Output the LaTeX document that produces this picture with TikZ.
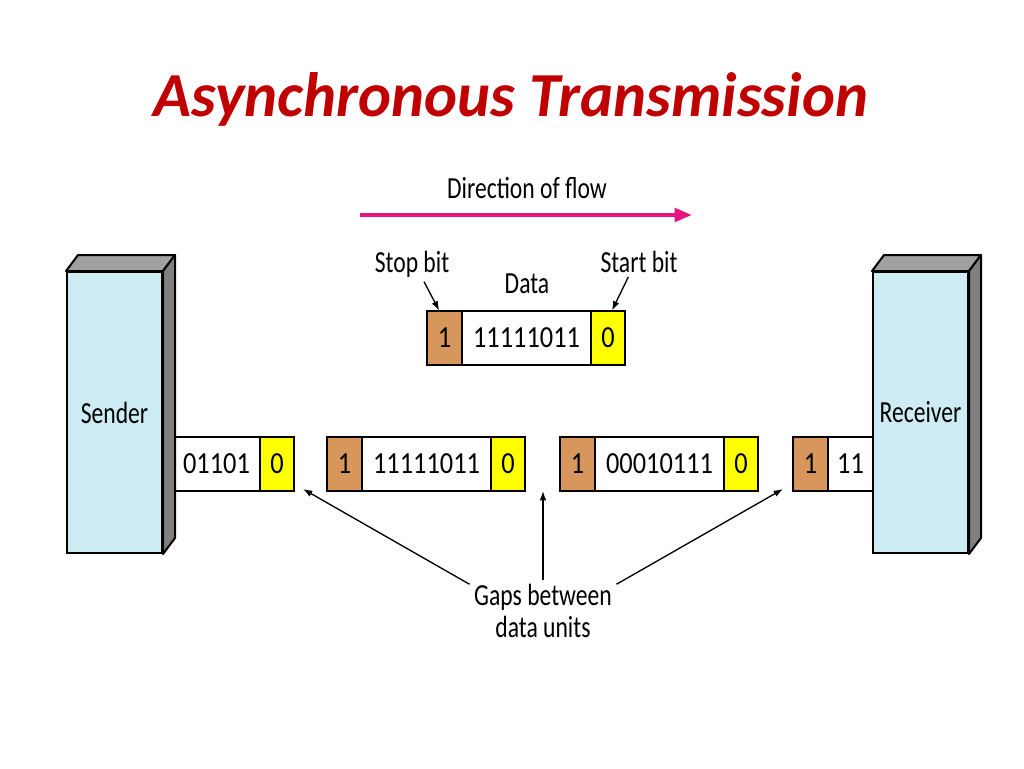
\documentclass[tikz,border=0pt]{standalone}
\usepackage{fontspec}
\setmainfont{Carlito}
\newfontfamily\labelfont{Carlito}[FakeStretch=0.77]
\newfontfamily\digitfont{Carlito}[FakeStretch=0.86]
\usetikzlibrary{positioning,arrows.meta}

\definecolor{titlered}{RGB}{192,0,0}
\definecolor{flowpink}{RGB}{231,19,127}
\definecolor{stopbrown}{RGB}{214,150,92}
\definecolor{startyellow}{RGB}{255,255,0}
\definecolor{hostblue}{RGB}{204,235,242}
\definecolor{hosttop}{RGB}{160,160,160}
\definecolor{hostside}{RGB}{128,128,128}

\tikzset{
  txt/.style={font=\labelfont\fontsize{23}{24}\selectfont},
  bitcell/.style={draw, line width=1.5pt, minimum height=40.5pt, inner sep=0pt, outer sep=0pt,
    font=\digitfont\fontsize{23}{24}\selectfont},
  stopcell/.style={bitcell, fill=stopbrown, minimum width=26.25pt},
  datacell/.style={bitcell, fill=white, minimum width=96.75pt},
  startcell/.style={bitcell, fill=startyellow, minimum width=25.5pt},
  host/.style={draw, line width=1.5pt, fill=hostblue, minimum width=71.25pt, minimum height=210.75pt, txt},
  face/.style={draw, line width=1.5pt, line join=round},
  ptr/.style={-{Latex[length=7pt,width=5pt]}, line width=1pt},
}

\begin{document}
\begin{tikzpicture}[x=0.75pt,y=-0.75pt]
\useasboundingbox (0,0) rectangle (1024,768);

\node[anchor=base, font=\fontsize{47}{50}\selectfont\bfseries\itshape, text=titlered] (title) at (511,116) {Asynchronous Transmission};

% direction of flow
\node[txt, anchor=base] (flowlbl) at (527,198) {Direction of flow};
\coordinate (flowa) at (360,215);
\coordinate (flowb) at (692,215);
\draw[flowpink, line width=3pt, -{Triangle[length=13pt,width=10pt]}] (flowa) -- (flowb);

% one data unit
\node[stopcell, anchor=west] (stop1) at (427,337.5) {1};
\node[datacell, right=0pt of stop1] (data1) {11111011};
\node[startcell, right=0pt of data1] (start1) {0};
\node[txt, anchor=base] (stoplbl) at (412,272) {Stop bit};
\node[txt, anchor=base] (datalbl) at (527,293) {Data};
\node[txt, anchor=base] (startlbl) at (639,272) {Start bit};
\draw[ptr] ([xshift=9pt]stoplbl.south) -- ([xshift=-4pt]stop1.north);
\draw[ptr] ([xshift=-8pt]startlbl.south) -- ([xshift=3pt]start1.north);

% units on the line
\node[bitcell, fill=white, minimum width=65.25pt, anchor=west] (data0) at (173,464) {01101};
\node[startcell, right=0pt of data0] (start0) {0};

\node[stopcell, anchor=west] (stop2) at (327,464) {1};
\node[datacell, right=0pt of stop2] (data2) {11111011};
\node[startcell, right=0pt of data2] (start2) {0};

\node[stopcell, anchor=west] (stop3) at (560,464) {1};
\node[datacell, right=0pt of stop3] (data3) {00010111};
\node[startcell, right=0pt of data3] (start3) {0};

\node[stopcell, anchor=west] (stop4) at (793,464) {1};
\node[bitcell, fill=white, minimum width=33.75pt, right=0pt of stop4] (data4) {11};

% sender and receiver
\node[host] (sender) at (114.5,412.5) {Sender};
\node[host] (receiver) at (920.5,412.5) {Receiver};
\foreach \h in {sender,receiver} {
  \draw[face, fill=hosttop] (\h.north west) -- ([shift={(12,-16)}]\h.north west)
    -- ([shift={(12,-16)}]\h.north east) -- (\h.north east) -- cycle;
  \draw[face, fill=hostside] (\h.north east) -- ([shift={(12,-16)}]\h.north east)
    -- ([shift={(12,-16)}]\h.south east) -- (\h.south east) -- cycle;
}

% gaps
\node[txt, align=center] (gaps) at (543,611) {Gaps between\\data units};
\coordinate (gapa) at (303,489);
\coordinate (gapb) at (543,491);
\coordinate (gapc) at (783,489);
\draw[ptr] (gaps.160) -- (gapa);
\draw[ptr] (gaps.north) -- (gapb);
\draw[ptr] (gaps.20) -- (gapc);
\end{tikzpicture}
\end{document}
